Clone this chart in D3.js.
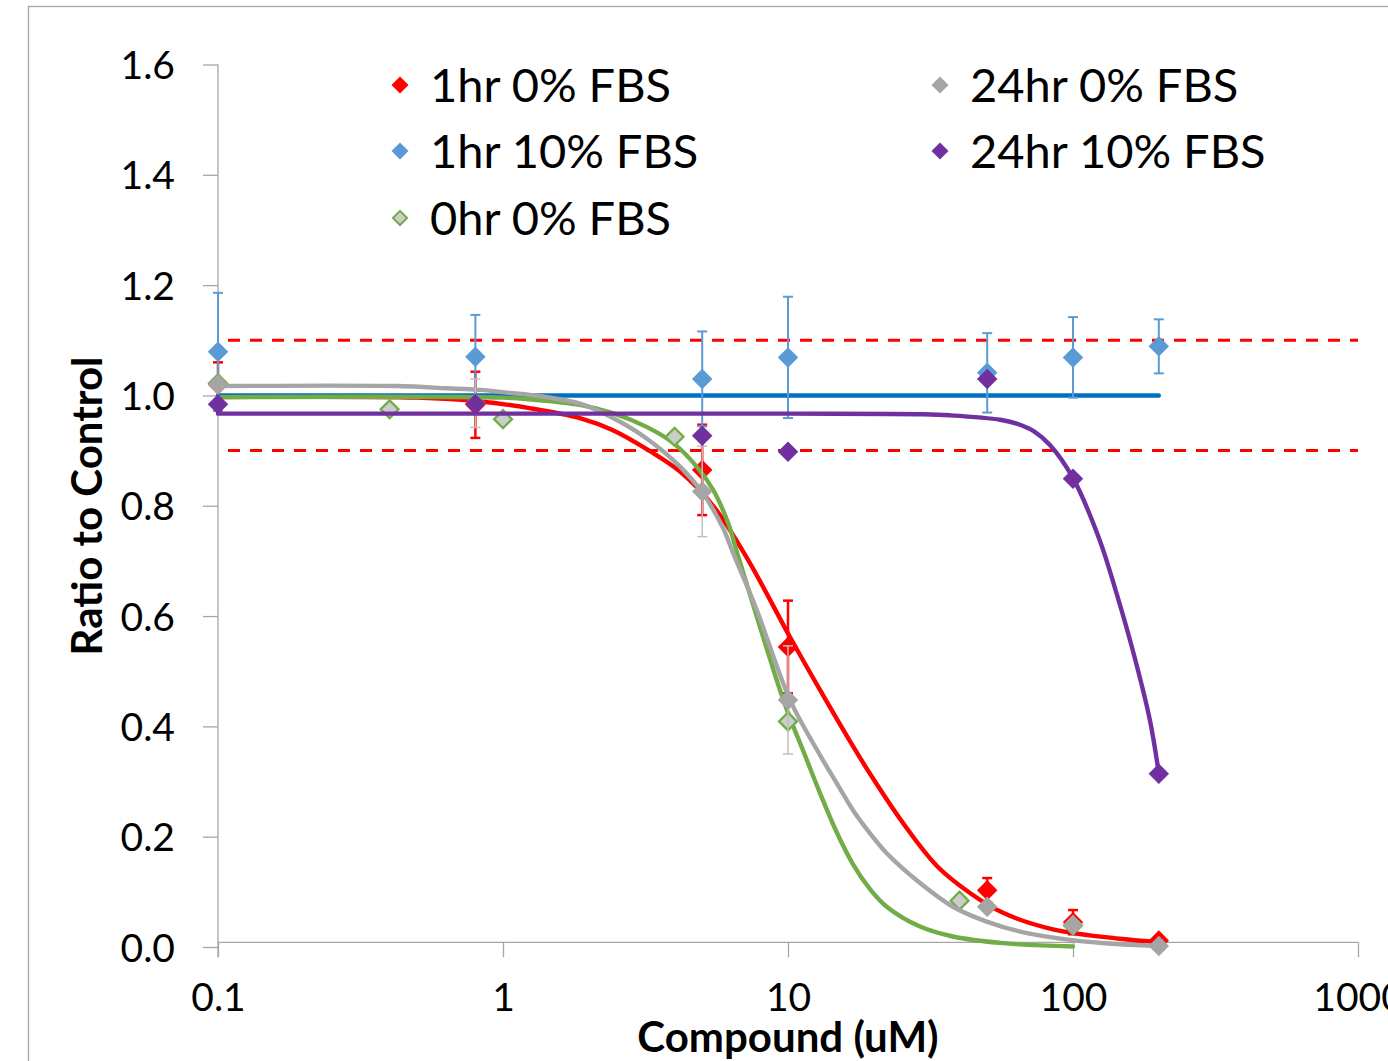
<!DOCTYPE html>
<html>
<head>
<meta charset="utf-8">
<script src="https://cdn.jsdelivr.net/npm/d3@7"></script>
<style>
  html, body { margin: 0; padding: 0; background: #fff; }
  svg { display: block; }
  text { font-family: Lato, "Open Sans", sans-serif; fill: #000; }
</style>
</head>
<body>
<svg id="chart" width="1388" height="1061"></svg>
<script>
// ---------------- data ----------------
const xTickValues = [0.1, 1, 10, 100, 1000];
const xTickLabels = ["0.1", "1", "10", "100", "1000"];
const yTickValues = [0, 0.2, 0.4, 0.6, 0.8, 1.0, 1.2, 1.4, 1.6];
const yTickLabels = ["0.0", "0.2", "0.4", "0.6", "0.8", "1.0", "1.2", "1.4", "1.6"];

const seriesNames = ["1hr 0% FBS", "1hr 10% FBS", "0hr 0% FBS", "24hr 0% FBS", "24hr 10% FBS"];

// 1hr 0% FBS (red)
const redConc = [0.1, 0.8, 5, 10, 50, 100, 200];
const redVal  = [1.020, 0.983, 0.865, 0.544, 0.103, 0.045, 0.012];
const redErr  = [0.040, 0.060, 0.082, 0.084, 0.022, 0.022, 0.004];
const redCurveConc = [0.1, 0.5, 0.83, 1.24, 1.86, 2.43, 3.28, 4.18, 5.46, 7.24, 10.16, 12.95, 16.24, 19.4, 25.3, 33.3, 43.5, 56.8, 85.1, 146, 200];
const redCurveVal  = [0.997, 0.996, 0.989, 0.977, 0.959, 0.937, 0.899, 0.862, 0.800, 0.702, 0.562, 0.466, 0.379, 0.314, 0.225, 0.147, 0.098, 0.062, 0.032, 0.015, 0.009];

// 1hr 10% FBS (blue)
const blueConc = [0.1, 0.8, 5, 10, 50, 100, 200];
const blueVal  = [1.079, 1.070, 1.030, 1.069, 1.041, 1.069, 1.089];
const blueErr  = [0.107, 0.076, 0.086, 0.110, 0.072, 0.073, 0.049];
const blueLineConc = [0.1, 200];
const blueLineVal  = [1.0, 1.0];

// 0hr 0% FBS (green outline)
const greenConc = [0.1, 0.4, 1, 4, 10, 40, 100];
const greenVal  = [1.022, 0.975, 0.957, 0.925, 0.409, 0.084, 0.039];
const greenCurveConc = [0.1, 1, 1.24, 1.86, 2.43, 3.19, 3.95, 4.78, 5.46, 6.16, 6.68, 7.98, 9.37, 10.16, 11.34, 12.95, 14.82, 16.91, 19.4, 22.2, 29.06, 37.9, 56.8, 100];
const greenCurveVal  = [0.997, 0.996, 0.993, 0.983, 0.968, 0.943, 0.914, 0.871, 0.829, 0.769, 0.709, 0.580, 0.466, 0.415, 0.354, 0.279, 0.208, 0.150, 0.105, 0.073, 0.037, 0.019, 0.007, 0.001];

// 24hr 0% FBS (gray)
const grayConc = [0.1, 0.8, 5, 10, 50, 100, 200];
const grayVal  = [1.020, 0.986, 0.826, 0.448, 0.073, 0.040, 0.002];
const grayErr  = [0, 0.044, 0.082, 0.098, 0, 0, 0];
const grayCurveConc = [0.1, 0.423, 0.635, 0.83, 1.084, 1.244, 1.863, 2.432, 3.19, 4.18, 5.02, 5.91, 6.41, 7.77, 10.16, 12.95, 14.82, 16.91, 19.4, 22.2, 29.06, 37.9, 49.8, 65.2, 97.6, 146, 200];
const grayCurveVal  = [1.017, 1.017, 1.013, 1.010, 1.004, 1.001, 0.985, 0.959, 0.922, 0.871, 0.823, 0.760, 0.715, 0.611, 0.448, 0.348, 0.297, 0.248, 0.206, 0.170, 0.116, 0.073, 0.046, 0.028, 0.013, 0.005, 0.002];

// 24hr 10% FBS (purple)
const purpleConc = [0.1, 0.8, 5, 10, 50, 100, 200];
const purpleVal  = [0.984, 0.985, 0.927, 0.898, 1.030, 0.849, 0.314];
const purpleCurveConc = [0.1, 1, 10, 30, 37, 55.5, 63.4, 73, 83, 100, 124, 142, 163, 186, 200];
const purpleCurveVal  = [0.967, 0.967, 0.967, 0.966, 0.964, 0.956, 0.949, 0.935, 0.910, 0.850, 0.738, 0.642, 0.533, 0.412, 0.315];

// threshold (dashed) lines
const thresholdConc = [0.1, 1000];
const thresholdVals = [1.1, 0.9];

// ---------------- drawing ----------------
const svg = d3.select("#chart");
const x = d3.scaleLog().domain([0.1, 1000]).range([218, 1358]);
const y = d3.scaleLinear().domain([0, 1.6]).range([947, 64.5]);

const axisColor = "#A6A6A6";

// outer frame (chart area border, cropped by picture)
svg.append("rect").attr("x", 28.5).attr("y", 6.5).attr("width", 1400).attr("height", 1100)
  .attr("fill", "none").attr("stroke", "#A6A6A6").attr("stroke-width", 1.3);

// Y axis
const yAxis = d3.axisLeft(y).tickValues(yTickValues).tickSize(15).tickFormat((d, i) => yTickLabels[i]);
const gy = svg.append("g").attr("transform", "translate(218,0)").call(yAxis);
gy.select(".domain").remove();
gy.selectAll(".tick line").attr("stroke", axisColor).attr("stroke-width", 1.3);
gy.selectAll(".tick text").attr("x", -43).attr("dy", "0.36em")
  .style("font-size", "39px").style("font-family", "Lato, sans-serif").attr("fill", "#000");
svg.append("line").attr("x1", 218).attr("x2", 218).attr("y1", y(1.6)).attr("y2", 957)
  .attr("stroke", axisColor).attr("stroke-width", 1.3);

// X axis (crosses slightly above zero, as in the original)
const xAxisY = y(0.0085);
const xAxis = d3.axisBottom(x).tickValues(xTickValues).tickSize(15).tickFormat((d, i) => xTickLabels[i]);
const gx = svg.append("g").attr("transform", `translate(0,${xAxisY})`).call(xAxis);
gx.select(".domain").remove();
gx.selectAll(".tick line").attr("stroke", axisColor).attr("stroke-width", 1.3);
gx.selectAll(".tick text").attr("y", 41).attr("dy", "0.71em")
  .style("font-size", "39px").style("font-family", "Lato, sans-serif").attr("fill", "#000");
svg.append("line").attr("x1", 218).attr("x2", 1358).attr("y1", xAxisY).attr("y2", xAxisY)
  .attr("stroke", axisColor).attr("stroke-width", 1.3);

// axis titles
svg.append("text").attr("transform", "translate(102,506) rotate(-90)")
  .attr("text-anchor", "middle").style("font-size", "42px").style("font-weight", "bold")
  .text("Ratio to Control");
svg.append("text").attr("x", 788).attr("y", 1052)
  .attr("text-anchor", "middle").style("font-size", "42px").style("font-weight", "bold")
  .text("Compound (uM)");

// dashed threshold lines
thresholdVals.forEach(v => {
  svg.append("line")
    .attr("x1", x(thresholdConc[0]) + 10).attr("x2", x(thresholdConc[1]))
    .attr("y1", y(v)).attr("y2", y(v))
    .attr("stroke", "#FF0000").attr("stroke-width", 3)
    .attr("stroke-dasharray", "12,10");
});

const lineGen = d3.line().x(d => x(d[0])).y(d => y(d[1])).curve(d3.curveCatmullRom.alpha(0.5));
const zip = (a, b) => a.map((v, i) => [v, b[i]]);
const diamond = size => d3.symbol().type(d3.symbolSquare).size(size)();

function drawErr(conc, val, err, color, width, cap) {
  const g = svg.append("g");
  conc.forEach((c, i) => {
    if (!err[i]) return;
    const cx = x(c), y1 = y(val[i] + err[i]), y2 = y(val[i] - err[i]);
    g.append("line").attr("x1", cx).attr("x2", cx).attr("y1", y1).attr("y2", y2)
      .attr("stroke", color).attr("stroke-width", width);
    [y1, y2].forEach(yy => g.append("line").attr("x1", cx - cap).attr("x2", cx + cap)
      .attr("y1", yy).attr("y2", yy).attr("stroke", color).attr("stroke-width", width));
  });
}
function drawCurve(conc, val, color, width) {
  svg.append("path").datum(zip(conc, val)).attr("d", lineGen)
    .attr("fill", "none").attr("stroke", color).attr("stroke-width", width)
    .attr("stroke-linecap", "round").attr("stroke-linejoin", "round");
}
function drawPoints(conc, val, fill, stroke, strokeWidth, size) {
  svg.append("g").selectAll("path").data(zip(conc, val)).join("path")
    .attr("d", diamond(size))
    .attr("transform", d => `translate(${x(d[0])},${y(d[1])}) rotate(45)`)
    .attr("fill", fill).attr("stroke", stroke).attr("stroke-width", strokeWidth);
}

// red series
drawCurve(redCurveConc, redCurveVal, "#FF0000", 4.4);
drawErr(redConc, redVal, redErr, "#FF0000", 2.5, 5);
drawPoints(redConc, redVal, "#FF0000", "none", 0, 210);

// blue series
drawCurve(blueLineConc, blueLineVal, "#0070C0", 4.4);
drawErr(blueConc, blueVal, blueErr, "#5B9BD5", 2, 5);
drawPoints(blueConc, blueVal, "#5B9BD5", "none", 0, 210);

// green series (0hr)
drawCurve(greenCurveConc, greenCurveVal, "#70AD47", 4.4);
drawPoints(greenConc, greenVal, "#CCCCCC", "#70AD47", 2.3, 160);

// gray series (24hr 0%)
drawCurve(grayCurveConc, grayCurveVal, "#A5A5A5", 4.4);
drawErr(grayConc, grayVal, grayErr, "#BFBFBF", 1.5, 5);
drawPoints(grayConc, grayVal, "#A5A5A5", "none", 0, 210);

// purple series
drawCurve(purpleCurveConc, purpleCurveVal, "#7030A0", 4.4);
drawPoints(purpleConc, purpleVal, "#7030A0", "none", 0, 210);

// legend
const legendItems = [
  { name: seriesNames[0], fill: "#FF0000", stroke: "none", sw: 0, lx: 400, ly: 85 },
  { name: seriesNames[1], fill: "#5B9BD5", stroke: "none", sw: 0, lx: 400, ly: 151 },
  { name: seriesNames[2], fill: "#CCCCCC", stroke: "#70AD47", sw: 2, lx: 400, ly: 218 },
  { name: seriesNames[3], fill: "#A5A5A5", stroke: "none", sw: 0, lx: 940, ly: 85 },
  { name: seriesNames[4], fill: "#7030A0", stroke: "none", sw: 0, lx: 940, ly: 151 }
];
const lg = svg.append("g");
legendItems.forEach(it => {
  lg.append("path").attr("d", diamond(it.sw ? 100 : 145))
    .attr("transform", `translate(${it.lx},${it.ly}) rotate(45)`)
    .attr("fill", it.fill).attr("stroke", it.stroke).attr("stroke-width", it.sw);
  lg.append("text").attr("x", it.lx + 30).attr("y", it.ly + 17)
    .style("font-size", "47px").text(it.name);
});
</script>
</body>
</html>
